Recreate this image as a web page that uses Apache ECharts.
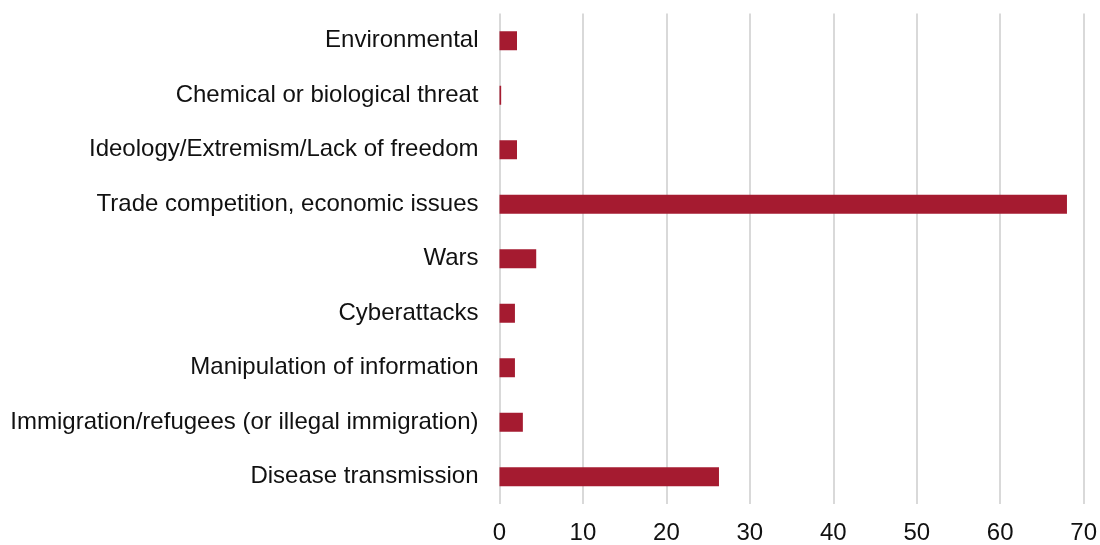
<!DOCTYPE html>
<html>
<head>
<meta charset="utf-8">
<script src="https://cdn.jsdelivr.net/npm/echarts@6/dist/echarts.min.js"></script>
<style>html,body{margin:0;padding:0;background:#fff;}#c{width:1100px;height:545px;}</style>
</head>
<body>
<div id="c"></div>
<script>
const categories = [
  "Environmental",
  "Chemical or biological threat",
  "Ideology/Extremism/Lack of freedom",
  "Trade competition, economic issues",
  "Wars",
  "Cyberattacks",
  "Manipulation of information",
  "Immigration/refugees (or illegal immigration)",
  "Disease transmission"
];
const values = [2.1, 0.2, 2.1, 68.0, 4.4, 1.85, 1.85, 2.8, 26.3];
const xTicks = { min: 0, max: 70, interval: 10 };

const chart = echarts.init(document.getElementById('c'));
chart.setOption({
  animation: false,
  grid: { left: 499.5, right: 16, top: 13.5, bottom: 37.5, containLabel: false },
  xAxis: {
    type: 'value', min: xTicks.min, max: xTicks.max, interval: xTicks.interval,
    axisLine: { show: false }, axisTick: { show: false },
    splitLine: { show: true, lineStyle: { color: '#d9d9d9', width: 2 } },
    axisLabel: { fontFamily: 'Liberation Sans', fontSize: 24, color: '#111', margin: 17 }
  },
  yAxis: {
    type: 'category', data: categories, inverse: true,
    axisLine: { show: false }, axisTick: { show: false },
    axisLabel: { fontFamily: 'Liberation Sans', fontSize: 24, color: '#111', margin: 21 }
  },
  series: [{
    type: 'bar', data: values, barWidth: 19,
    itemStyle: { color: '#a51b30' }
  }]
});
</script>
</body>
</html>
